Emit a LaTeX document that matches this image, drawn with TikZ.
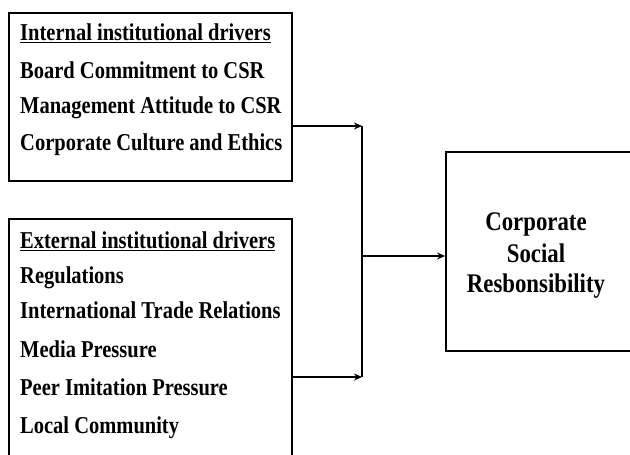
\documentclass[tikz,border=0pt]{standalone}
\usepackage{fontspec}
\setmainfont{Liberation Serif}
\usetikzlibrary{arrows.meta}
\newcommand{\tall}[1]{\scalebox{1}[1.18]{#1}}

\begin{document}
\begin{tikzpicture}[x=1pt,y=-1pt,
  frame/.style={draw,line width=1.8pt,rectangle,inner sep=0pt},
  item/.style={anchor=base west,inner sep=0pt,font=\fontsize{20.5}{24}\selectfont\bfseries},
  csrline/.style={anchor=base,inner sep=0pt,font=\fontsize{22.8}{24}\selectfont\bfseries},
  link/.style={line width=1.7pt},
  arr/.style={link,-{Stealth[length=8pt,width=7pt]}}]
\def\yTop{126}
\def\yMid{256}
\def\yBot{377}
\def\xJoin{362}
\useasboundingbox (0,0) rectangle (630,455);
\clip (0,0) rectangle (630,455);
% boxes
\path
(150.5,97) node[frame,minimum width=283pt,minimum height=168pt] (inbox) {}
(150.5,344.5) node[frame,minimum width=283pt,minimum height=251pt] (exbox) {}
(538.5,251.5) node[frame,minimum width=185pt,minimum height=199pt] (csr) {}
;
\path
(536,230) node[csrline] (csr1) {\tall{Corporate}}
(536,262) node[csrline] (csr2) {\tall{Social}}
(536,292) node[csrline] (csr3) {\tall{Resbonsibility}}
;
% internal drivers
\path
(20,40) node[item] (in0) {\tall{\underline{Internal institutional drivers}}}
(20,78) node[item] (in1) {\tall{Board Commitment to CSR}}
(20,113) node[item] (in2) {\tall{Management Attitude to CSR}}
(20,150) node[item] (in3) {\tall{Corporate Culture and Ethics}}
;
% external drivers
\path
(20,248) node[item] (ex0) {\tall{\underline{External institutional drivers}}}
(20,283) node[item] (ex1) {\tall{Regulations}}
(20,318) node[item] (ex2) {\tall{International Trade Relations}}
(20,357) node[item] (ex3) {\tall{Media Pressure}}
(20,395) node[item] (ex4) {\tall{Peer Imitation Pressure}}
(20,433) node[item] (ex5) {\tall{Local Community}}
;
\coordinate (jTop) at (\xJoin,\yTop);
\coordinate (jMid) at (\xJoin,\yMid);
\coordinate (jBot) at (\xJoin,\yBot);
\draw[arr] (inbox.east |- jTop) -- (jTop);
\draw[arr] (exbox.east |- jBot) -- (jBot);
\draw[link] (jTop) -- (jBot);
\draw[arr] (jMid) -- (csr.west |- jMid);
\end{tikzpicture}
\end{document}
